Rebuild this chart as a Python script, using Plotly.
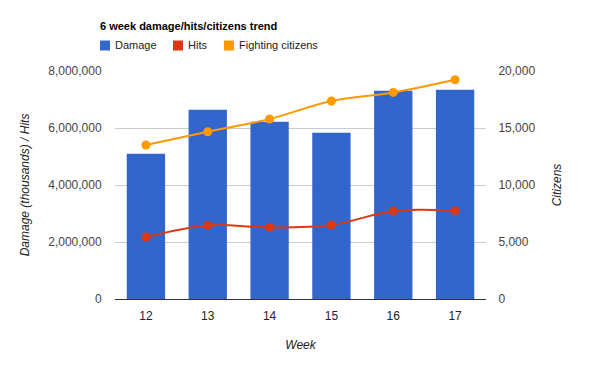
import plotly.graph_objects as go

weeks = ["12", "13", "14", "15", "16", "17"]
damage = [5098000, 6642000, 6221000, 5835000, 7309000, 7344000]
hits = [2175000, 2583000, 2512000, 2596000, 3088000, 3098000]
citizens = [13509, 14675, 15789, 17368, 18123, 19237]
series_names = ["Damage", "Hits", "Fighting citizens"]

left_ticks = [0, 2000000, 4000000, 6000000, 8000000]
right_ticks = [0, 5000, 10000, 15000, 20000]

C_DMG = "#3366cc"
C_HITS = "#dc3912"
C_CIT = "#ff9900"
series_colors = [C_DMG, C_HITS, C_CIT]
FONT = "Liberation Sans, Arial, sans-serif"

W, H = 600, 371
L, R, T, B = 115, 114, 71, 72
PW, PH = W - L - R, H - T - B


def px_x(px):
    return (px - L) / PW


def px_y(py):
    return (H - B - py) / PH


fig = go.Figure()
fig.add_trace(go.Bar(x=weeks, y=damage, name="Damage", marker=dict(color=C_DMG, line=dict(width=0)),
                     yaxis="y", showlegend=False))
fig.add_trace(go.Scatter(x=weeks, y=hits, name="Hits", mode="lines+markers",
                         line=dict(color=C_HITS, width=2, shape="spline", smoothing=1),
                         marker=dict(color=C_HITS, size=9), yaxis="y", showlegend=False))
fig.add_trace(go.Scatter(x=weeks, y=citizens, name="Fighting citizens", mode="lines+markers",
                         line=dict(color=C_CIT, width=2, shape="spline", smoothing=1),
                         marker=dict(color=C_CIT, size=9), yaxis="y2", showlegend=False))

# manual legend (square swatch + label)
legend_x = [100, 173, 224]
shapes = []
annotations = []
for name, col, lx in zip(series_names, series_colors, legend_x):
    shapes.append(dict(type="rect", xref="paper", yref="paper",
                       x0=px_x(lx), x1=px_x(lx + 10), y0=px_y(50.5), y1=px_y(40.5),
                       fillcolor=col, line=dict(width=0)))
    annotations.append(dict(text=name, xref="paper", yref="paper", x=px_x(lx + 13), y=px_y(45.5),
                            xanchor="left", yanchor="middle", showarrow=False,
                            font=dict(size=11, color="#222222", family=FONT)))

fig.update_layout(
    width=W, height=H,
    margin=dict(l=L, r=R, t=T, b=B, autoexpand=False),
    paper_bgcolor="white", plot_bgcolor="white",
    font=dict(family=FONT, size=12, color="#444444"),
    title=dict(text="<b>6 week damage/hits/citizens trend</b>", x=100/600, xanchor="left",
               y=1-26/371, yanchor="middle", font=dict(size=11, color="#000000", family=FONT)),
    showlegend=False,
    bargap=0.38,
    barmode="overlay",
    shapes=shapes,
    annotations=annotations,
    xaxis=dict(
        type="category", showgrid=False, showline=False, zeroline=False,
        ticks="outside", ticklen=6, tickcolor="rgba(0,0,0,0)",
        tickfont=dict(size=12, color="#222222"),
        title=dict(text="<i>Week</i>", font=dict(size=12, color="#222222"), standoff=18),
    ),
    yaxis=dict(
        range=[0, 8000000], tickvals=left_ticks, tickformat=",d",
        showgrid=True, gridcolor="#cccccc", gridwidth=1,
        zeroline=True, zerolinecolor="#333333", zerolinewidth=1,
        showline=False, ticks="outside", ticklen=10, tickcolor="rgba(0,0,0,0)",
        tickfont=dict(size=12, color="#444444"),
        title=dict(text="<i>Damage (thousands) / Hits</i>", font=dict(size=12, color="#222222"), standoff=16),
    ),
    yaxis2=dict(
        range=[0, 20000], tickvals=right_ticks, tickformat=",d",
        overlaying="y", side="right", showgrid=False, zeroline=False, showline=False,
        ticks="outside", ticklen=9, tickcolor="rgba(0,0,0,0)",
        tickfont=dict(size=12, color="#444444"),
        title=dict(text="<i>Citizens</i>", font=dict(size=12, color="#222222"), standoff=18),
    ),
)

fig.write_html("out.html", config={"displayModeBar": False},
               post_script="document.body.style.margin='0';document.body.style.padding='0';")
